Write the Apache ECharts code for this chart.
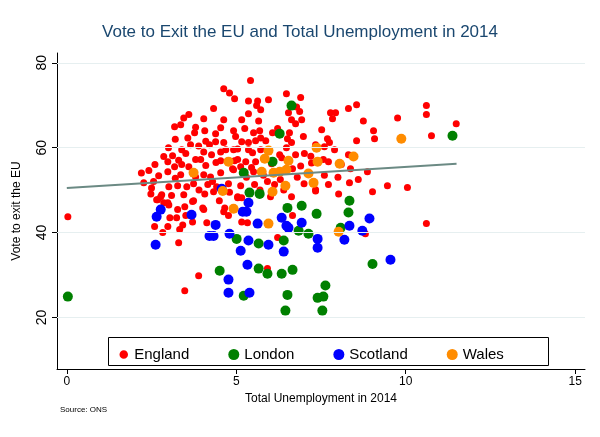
<!DOCTYPE html>
<html><head><meta charset="utf-8">
<script src="https://cdn.jsdelivr.net/npm/echarts@6/dist/echarts.min.js"></script>
<style>html,body{margin:0;padding:0;background:#fff}#c{width:600px;height:437px}</style>
</head><body><div id="c"></div>
<script>
const england = [
[4.63,73.9],[4.80,72.9],[4.95,71.5],[4.33,69.2],[3.60,67.8],[3.45,67.0],[4.04,66.8],[4.63,66.6],[3.36,65.4],[3.18,64.9],
[3.77,63.5],[4.07,64.0],[4.54,64.7],[4.92,64.0],[3.57,62.3],[4.39,63.3],[4.98,62.6],[3.65,60.7],[3.89,60.4],[4.21,60.7],
[4.39,61.4],[4.63,61.2],[3.39,59.5],[4.04,59.0],[4.54,59.0],[4.92,59.5],[2.86,57.9],[3.12,58.1],[3.51,58.6],[3.80,57.2],
[4.27,58.3],[2.98,56.7],[3.18,55.5],[3.39,56.0],[3.95,57.2],[4.54,56.9],[5.04,57.2],[2.42,54.6],[2.71,53.4],[2.98,54.3],
[3.36,53.6],[3.80,53.1],[4.04,53.6],[4.24,53.1],[4.54,54.1],[4.89,55.0],[2.27,51.7],[2.56,52.0],[3.01,50.8],[3.27,51.0],
[3.54,50.8],[3.74,51.5],[4.16,51.3],[4.42,50.8],[4.77,51.5],[2.48,49.1],[2.77,48.4],[3.09,48.7],[3.45,48.9],[4.07,49.1],
[4.33,49.6],[2.68,47.7],[2.98,47.0],[3.48,46.1],[3.74,47.5],[4.01,45.8],[5.04,48.4],
[5.42,75.8],[6.48,72.7],[6.90,71.8],[5.36,71.0],[5.63,71.0],[5.95,71.3],[5.60,69.9],[5.72,68.9],[6.78,69.6],[6.54,68.2],
[6.87,68.5],[5.36,68.0],[7.78,68.2],[7.93,68.2],[7.84,66.8],[8.31,69.2],[8.55,70.1],[8.75,66.3],[9.76,67.0],[5.16,66.6],
[5.66,66.3],[6.63,66.6],[6.93,66.6],[6.75,65.6],[6.22,64.5],[7.52,64.2],[9.05,64.0],[5.25,64.5],[5.51,63.5],[5.69,64.0],
[6.07,63.5],[6.57,63.5],[6.98,62.6],[5.16,61.4],[5.36,61.2],[5.57,61.6],[5.72,62.3],[5.87,61.6],[6.51,62.1],[6.63,61.2],
[6.48,60.0],[7.69,62.1],[7.75,61.2],[8.55,61.6],[9.08,62.1],[7.34,60.7],[7.60,60.2],[4.69,59.5],[5.04,59.7],[5.36,59.5],
[5.48,58.8],[5.72,59.5],[6.28,58.3],[6.34,57.6],[6.75,58.3],[7.01,58.6],[6.04,56.2],[4.95,56.9],[5.28,56.7],[5.57,56.7],
[6.90,55.7],[7.22,56.4],[7.57,57.2],[7.72,56.7],[8.31,58.3],[8.37,55.0],[8.87,54.3],[4.92,54.8],[5.13,55.5],[5.45,55.3],
[5.51,54.3],[6.66,55.0],[5.13,51.0],[5.54,51.3],[5.92,52.0],[6.13,51.3],[7.72,51.3],[8.34,51.7],[9.46,51.0],[10.05,50.6],
[7.34,50.1],[8.02,49.1],[9.02,49.6],[6.01,48.4],[6.63,48.4],[5.04,48.2],[5.16,48.2],
[10.61,69.9],[10.61,67.8],[11.49,65.6],[10.76,62.8],[10.61,42.1],
[0.03,43.7],[2.80,48.9],[2.65,47.7],[2.86,47.0],[3.01,46.5],[3.27,45.4],[3.04,43.5],[3.24,43.5],[3.51,44.0],[2.59,41.4],
[2.98,41.4],[3.42,41.8],[2.83,40.0],[3.33,40.7],[3.71,42.5],[4.13,42.3],[4.04,45.4],[4.63,44.9],[4.77,44.0],[4.66,45.8],
[3.30,37.6],[3.89,29.8],[3.48,26.3],[3.71,47.3],[6.66,44.0],[5.16,42.5],[5.33,42.3],[6.22,38.8],[5.92,31.5],[8.81,39.7],
[7.34,49.8],[3.2,62.0],[3.0,60.0],[3.3,57.0],[2.6,56.0],[2.2,54.0],[3.6,55.5],[4.1,55.8],[4.3,52.0],[3.9,50.0],
[2.5,50.5],[3.2,52.8],[4.5,47.5],[4.8,49.5],[5.3,53.0],[5.8,53.5],[6.3,52.5],[6.8,53.0],[7.0,51.5],[6.4,50.0],
[5.7,50.0],[7.6,53.5],[8.0,53.0],[8.6,52.5],[7.2,58.0],[7.9,59.5],[8.1,56.0],[4.4,56.5],[4.1,61.5],[3.8,64.8]
];
const london = [
[0.03,24.9],[6.63,69.9],[6.28,63.3],[11.38,62.8],[6.07,56.7],[5.22,54.1],[5.39,49.4],[5.69,49.1],[6.51,45.8],[6.93,46.3],
[7.37,44.4],[8.34,47.5],[8.31,44.7],[8.08,41.1],[6.84,40.4],[7.13,39.7],[5.01,38.5],[6.40,38.1],[5.66,37.4],[4.51,31.0],
[5.66,31.5],[5.92,30.3],[6.34,30.3],[6.66,31.2],[9.02,32.6],[7.63,27.5],[5.22,25.1],[6.51,25.3],[7.40,24.6],[7.57,24.9],
[6.45,21.6],[7.54,21.6]
];
const scotland = [
[4.57,50.3],[2.77,45.4],[2.65,43.7],[3.68,44.2],[4.39,41.8],[4.21,39.2],[4.33,39.2],[4.80,39.7],[2.62,37.1],[5.36,47.0],
[5.19,44.9],[5.30,44.9],[5.63,42.1],[6.34,43.5],[6.48,41.6],[6.54,41.1],[6.93,42.3],[5.36,38.1],[5.95,37.1],[6.40,35.5],
[5.13,35.7],[7.40,38.5],[7.40,36.4],[8.19,38.3],[8.72,40.4],[8.93,43.3],[8.34,41.6],[9.55,33.6],[5.33,32.4],[4.77,28.9],
[4.77,25.8],[5.39,25.8]
];
const wales = [
[9.87,62.1],[5.95,59.3],[7.37,60.0],[4.77,56.7],[5.84,57.4],[6.54,56.9],[7.40,56.7],[8.05,56.2],[8.46,57.9],[5.75,54.3],
[3.74,54.1],[6.10,54.1],[6.28,54.3],[6.48,54.8],[7.13,53.9],[7.28,51.7],[6.45,51.0],[6.07,49.6],[4.60,49.8],[4.92,45.6],
[5.95,42.1],[8.02,40.2]
];
const fitLine = [[0,50.5],[11.5,56.2]];
const xTicks = [0,5,10,15];
const yTicks = [20,40,60,80];

const F = '"Liberation Sans", Arial, sans-serif';
const chart = echarts.init(document.getElementById('c'));
const sc = (name, data, color, size) => ({
  name, type:'scatter', data, symbolSize:size, itemStyle:{color, opacity:1}, z:3
});
chart.setOption({
  animation:false,
  backgroundColor:'#fff',
  title:{text:'Vote to Exit the EU and Total Unemployment in 2014', left:'center', top:19,
    textStyle:{fontFamily:F, fontSize:17, fontWeight:'normal', color:'#1a476f'}},
  grid:{left:57, right:15, top:53, bottom:68},
  xAxis:{type:'value', min:-0.29, max:15.29,
    name:'Total Unemployment in 2014', nameLocation:'middle', nameGap:23,
    nameTextStyle:{fontFamily:F, fontSize:12, color:'#000'},
    axisLine:{show:true, onZero:false, lineStyle:{color:'#000', width:1}},
    axisTick:{show:true, length:5, customValues:xTicks, lineStyle:{color:'#000'}},
    axisLabel:{customValues:xTicks, fontFamily:F, fontSize:12, color:'#000', margin:7},
    splitLine:{show:false}},
  yAxis:{type:'value', min:7.84, max:82.3,
    name:'Vote to exit the EU', nameLocation:'middle', nameGap:34,
    nameTextStyle:{fontFamily:F, fontSize:12, color:'#000'},
    axisLine:{show:true, onZero:false, lineStyle:{color:'#000', width:1}},
    axisTick:{show:true, length:5, customValues:yTicks, lineStyle:{color:'#000'}},
    axisLabel:{customValues:yTicks, rotate:90, fontFamily:F, fontSize:14, color:'#000', margin:8},
    splitLine:{show:false}},
  legend:{data:[{name:'England', itemStyle:{borderColor:'#fff', borderWidth:2.5}},'London','Scotland','Wales'], left:112, top:342, itemGap:39,
    itemWidth:11, itemHeight:11, icon:'circle',
    textStyle:{fontFamily:F, fontSize:15, color:'#000'}},
  graphic:[
    {type:'rect', shape:{x:108.5, y:337.5, width:440, height:28}, style:{fill:'#fff', stroke:'#000', lineWidth:1}, z:-1},
    {type:'text', left:60, top:406, style:{text:'Source: ONS', font:'8px '+F, fill:'#000'}}
  ],
  series:[
    {type:'line', data:[], silent:true, markLine:{silent:true, symbol:'none', label:{show:false},
      lineStyle:{color:'#e6eff0', type:'solid', width:1},
      data:yTicks.map(v=>({yAxis:v}))}, z:1},
    sc('England', england, '#ff0000', 7),
    sc('London', london, '#008000', 10),
    sc('Scotland', scotland, '#0000ff', 10),
    sc('Wales', wales, '#ff8c00', 10),
    {type:'line', data:fitLine, symbol:'none', lineStyle:{color:'#6b8a84', width:2}, z:4, silent:true}
  ]
});
</script></body></html>
